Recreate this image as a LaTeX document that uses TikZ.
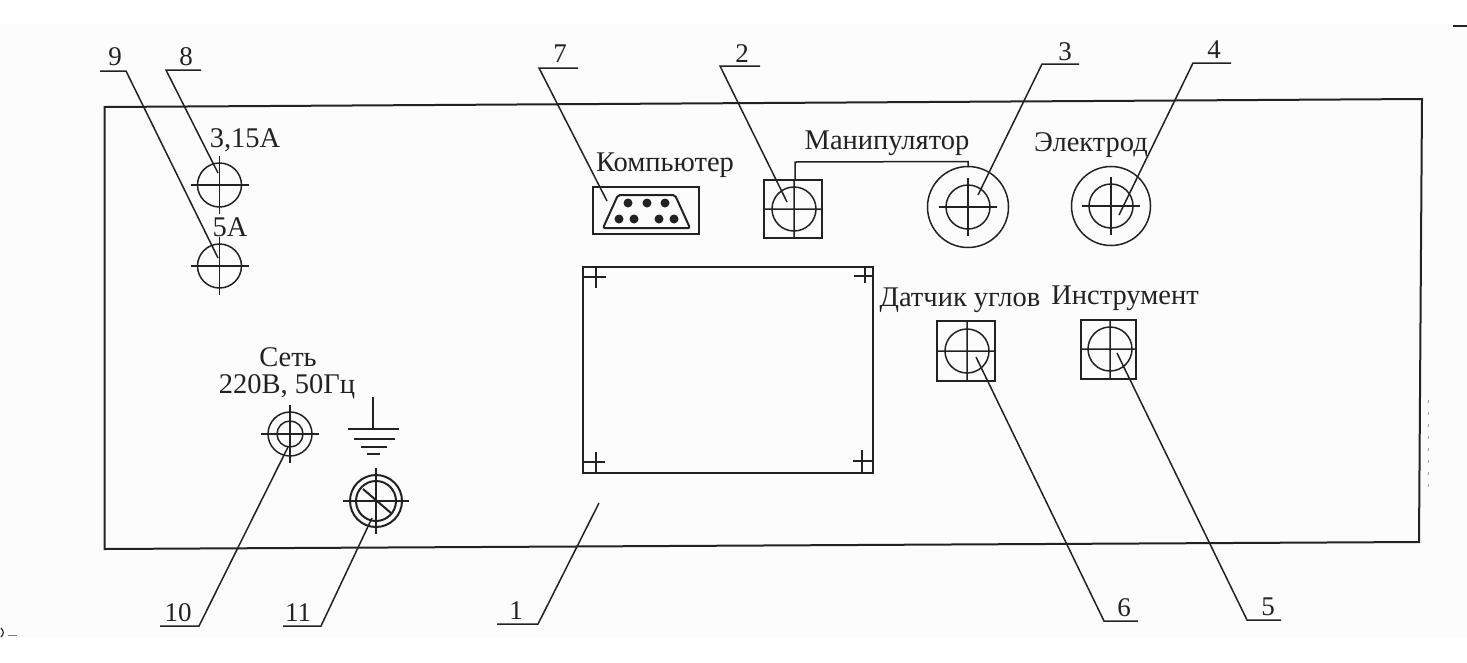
\documentclass[tikz,border=0pt]{standalone}
\usepackage{fontspec}
\setmainfont{Liberation Serif}
\definecolor{ink}{HTML}{222222}
\definecolor{paper}{HTML}{FCFCFC}
\tikzset{
  every node/.style={inner sep=0pt,outer sep=0pt,text=ink},
  thinl/.style={draw=ink,line width=1.5pt},
  frame/.style={draw=ink,line width=2pt},
  lab/.style={font=\fontsize{28.5}{30}\selectfont,anchor=center},
  num/.style={font=\fontsize{27}{29}\selectfont,anchor=center},
  crossmark/.pic={\draw[thinl] (-29,0) -- (29,0) (0,-29) -- (0,29);},
}
\begin{document}
\begin{tikzpicture}[x=1pt,y=-1pt]
\useasboundingbox[fill=white] (0,0) rectangle (1467,662);
\fill[paper] (0,24) rectangle (1467,638);
% scan marks
\draw[ink,line width=1.2pt] (1453,26) -- (1467,26);
\draw[ink,line width=1.2pt] (1,628) .. controls (4,631) and (4,634) .. (1,637);
\draw[gray,line width=.8pt] (8,635) -- (17,635);
\draw[gray!70,line width=.8pt,dash pattern=on 3pt off 9pt] (1428,400) -- (1428,492);
% panel
\draw[frame] (104.5,107) -- (1422,99) -- (1419,542) -- (104.5,549) -- cycle;
% fuses
\coordinate (f8) at (219.5,185);
\coordinate (f9) at (219.5,266);
\foreach \c in {f8,f9}{ \draw[thinl] (\c) circle (22); \pic at (\c) {crossmark}; }
\node[lab] (t315) at (245,140) {3,15А};
\node[lab] (t5) at (230,227) {5А};
% computer
\node[lab] (tcomp) at (665,165) {Компьютер};
\draw[frame] (593,187) rectangle (699,234);
\draw[frame,rounded corners=2pt] (618,195) -- (675,195) -- (690,228) -- (603,228) -- cycle;
\foreach \x/\y in {628/203,647/203,665/203,619/219,634/219,659/219,674/219}{ \fill[ink] (\x,\y) circle (4.5); }
% square sockets
\draw[frame] (764,180) rectangle (822,238);
\draw[thinl] (794,209) circle (22) (764,209) -- (822,209) (794,180) -- (794,238);
\draw[frame] (937,321) rectangle (995,381);
\draw[thinl] (967,351) circle (22) (937,351) -- (995,351) (967,321) -- (967,381);
\draw[frame] (1081,320) rectangle (1136,379);
\draw[thinl] (1110,349) circle (22) (1081,349) -- (1136,349) (1110,320) -- (1110,379);
% round sockets
\coordinate (c3) at (968,207);
\coordinate (c4) at (1111,206);
\draw[thinl] (c3) circle (40.5) (c3) circle (22);
\pic at (c3) {crossmark};
\draw[thinl] (c4) circle (39.5) (c4) circle (22);
\pic at (c4) {crossmark};
% bracket
\draw[thinl] (795,180) -- (795,162) -- (968,161.5) -- (968,167);
\node[lab] (tman) at (887,143) {Манипулятор};
\node[lab] (tel) at (1091,145) {Электрод};
\node[lab] (tdat) at (960,300) {Датчик углов};
\node[lab] (tins) at (1125,298) {Инструмент};
% display
\draw[frame] (583,267) rectangle (873,473);
\draw[thinl] (583,277) -- (606,277) (596,267) -- (596,288)
  (854,276) -- (873,276) (865,267) -- (865,283)
  (583,462) -- (605,462) (596,452) -- (596,473)
  (853,461) -- (873,461) (862,450) -- (862,473);
% mains
\coordinate (c10) at (290,434);
\draw[thinl] (c10) circle (22) (c10) circle (13);
\pic at (c10) {crossmark};
\node[lab] (tset) at (288,357) {Сеть};
\node[lab] (tv) at (287,387) {220В, 50Гц};
% ground
\draw[frame] (373,397) -- (373,429) (348,429) -- (399,429) (354,439) -- (395,439) (361,447) -- (387,447) (367,454) -- (380,454);
\coordinate (c11) at (376,501);
\draw[frame] (c11) circle (26) (c11) circle (20);
\draw[thinl] (343,501) -- (409,501) (376,468) -- (376,534);
\draw[frame] (363,489) -- (391,513);
% leaders
\draw[thinl] (100,71) -- (126,71) -- (218,258);
\draw[thinl] (201,70) -- (166,70) -- (218,173);
\draw[thinl] (578,68) -- (539,68) -- (607,201);
\draw[thinl] (760,66) -- (720,66) -- (787,202);
\draw[thinl] (1079,64) -- (1042,64) -- (978,195);
\draw[thinl] (1231,63) -- (1193,63) -- (1119,215);
\draw[thinl] (160,626) -- (199,626) -- (288,447);
\draw[thinl] (283,626) -- (321,626) -- (372,518);
\draw[thinl] (497,624) -- (538,624) -- (599,503);
\draw[thinl] (976,357) -- (1104,621) -- (1138,621);
\draw[thinl] (1117,353) -- (1247,620) -- (1281,620);
\foreach \n/\x/\y in {9/115/57,8/186/57,7/560/54,2/742/54,3/1065/52,4/1214/50,10/178/613,11/298/613,1/516/611,6/1124/608,5/1268/607}{
  \node[num] (n\n) at (\x,\y) {\n};
}
\end{tikzpicture}
\end{document}
